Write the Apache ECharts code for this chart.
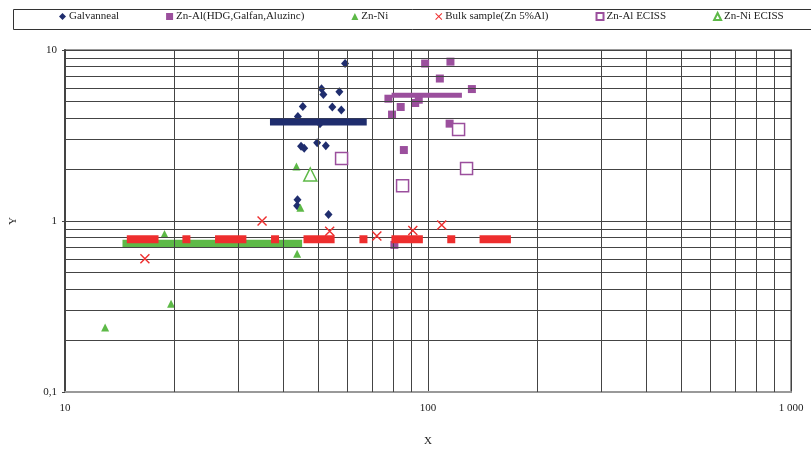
<!DOCTYPE html>
<html>
<head>
<meta charset="utf-8">
<script src="https://cdn.jsdelivr.net/npm/echarts@6/dist/echarts.min.js"></script>
<style>
html, body { margin: 0; padding: 0; background: #fff; }
#chart { width: 811px; height: 452px; }
</style>
</head>
<body>
<div id="chart"></div>
<script>
// values, [x, y]
var galvanneal = [[59.1, 8.33], [50.9, 5.93], [51.5, 5.50], [57.0, 5.70], [45.2, 4.68], [54.5, 4.64],
	[57.7, 4.46], [43.8, 4.08], [50.4, 3.71], [44.7, 2.74], [45.6, 2.66], [49.5, 2.87], [52.3, 2.75],
	[43.7, 1.33], [43.6, 1.23], [53.2, 1.09]];
var znAl = [[98.2, 8.33], [115.3, 8.55], [107.8, 6.81], [132.1, 5.91], [77.8, 5.19], [84.1, 4.64],
	[92.2, 4.90], [94.3, 5.12], [79.6, 4.19], [114.7, 3.71], [85.8, 2.60], [80.8, 0.725]];
var znNi = [[43.4, 2.08], [44.5, 1.195], [18.8, 0.84], [43.6, 0.643], [19.6, 0.328], [12.9, 0.238]];
var bulk = [[16.6, 0.601], [34.9, 1.0], [53.6, 0.871], [72.3, 0.818], [90.8, 0.879], [109.1, 0.948]];
var znAlEciss = [[57.8, 2.32], [121.4, 3.43], [127.7, 2.03], [85.1, 1.61]];
var znNiEciss = [[47.4, 1.87]];

// ranges drawn as thick bands
var galvBar = [[36.7, 3.79], [67.8, 3.79]];
var znAlBar = [[79.4, 5.44], [124, 5.44]];
var znNiBar = [[14.4, 0.737], [45.0, 0.737]];
var bulkLevel = 0.782;
var bulkRanges = [[14.8, 18.1], [25.9, 31.6], [45.4, 55.3], [79.3, 96.8], [138.7, 169.2]];
var bulkSingles = [21.6, 37.9, 66.4, 115.9];

// grid lines between decades
var xGridValues = [20, 30, 40, 50, 60, 70, 80, 90, 200, 300, 400, 500, 600, 700, 800, 900];
var yGridValues = [0.2, 0.3, 0.4, 0.5, 0.6, 0.7, 0.8, 0.9, 2, 3, 4, 5, 6, 7, 8, 9];

var cNavy = '#1f2d6e';
var cPurple = '#9b4f9d';
var cGreen = '#5db947';
var cRed = '#ee2e2e';
var crossPath = 'path://M0,1L1,0L10,9L9,10Z M9,0L10,1L1,10L0,9Z';
var serif = 'Liberation Serif';

var chart = echarts.init(document.getElementById('chart'));

var gridLines = [];
xGridValues.forEach(function(v) { gridLines.push({ xAxis: v }); });
yGridValues.forEach(function(v) { gridLines.push({ yAxis: v }); });

function band(data, color, width, z) {
	return {
		type: 'line',
		data: data,
		symbol: 'none',
		silent: true,
		z: z,
		lineStyle: { color: color, width: width, cap: 'butt' }
	};
}

var series = [{
	// carrier for the minor grid lines
	type: 'line',
	data: [],
	symbol: 'none',
	silent: true,
	z: 1,
	markLine: {
		silent: true,
		symbol: 'none',
		label: { show: false },
		lineStyle: { color: '#444', width: 1, type: 'solid' },
		data: gridLines
	}
},
	band(znNiBar, cGreen, 8, 3),
{
	name: 'Galvanneal',
	type: 'scatter',
	data: galvanneal,
	symbol: 'diamond',
	symbolSize: [8, 9],
	itemStyle: { color: cNavy, opacity: 1 },
	z: 4
}, {
	name: 'Zn-Al(HDG,Galfan,Aluzinc)',
	type: 'scatter',
	data: znAl,
	symbol: 'rect',
	symbolSize: 8,
	itemStyle: { color: cPurple, opacity: 1 },
	z: 4
}, {
	name: 'Zn-Ni',
	type: 'scatter',
	data: znNi,
	symbol: 'triangle',
	symbolSize: 8,
	itemStyle: { color: cGreen, opacity: 1 },
	z: 4
},
	band(galvBar, cNavy, 7, 5),
	band(znAlBar, cPurple, 5, 5)
];

bulkRanges.forEach(function(r) {
	series.push(band([[r[0], bulkLevel], [r[1], bulkLevel]], cRed, 8, 6));
});
series.push({
	type: 'scatter',
	data: bulkSingles.map(function(x) { return [x, bulkLevel]; }),
	symbol: 'rect',
	symbolSize: 8,
	itemStyle: { color: cRed, opacity: 1 },
	silent: true,
	z: 6
});

series.push({
	name: 'Bulk sample(Zn 5%Al)',
	type: 'scatter',
	data: bulk,
	symbol: crossPath,
	symbolSize: 10,
	itemStyle: { color: cRed, opacity: 1 },
	z: 7
}, {
	name: 'Zn-Al ECISS',
	type: 'scatter',
	data: znAlEciss,
	symbol: 'rect',
	symbolSize: 12,
	itemStyle: { color: '#fff', borderColor: cPurple, borderWidth: 1.5, opacity: 1 },
	z: 7
}, {
	name: 'Zn-Ni ECISS',
	type: 'scatter',
	data: znNiEciss,
	symbol: 'triangle',
	symbolSize: 13,
	itemStyle: { color: '#fff', borderColor: cGreen, borderWidth: 1.5, opacity: 1 },
	z: 7
});

var option = {
	backgroundColor: '#fff',
	animation: false,
	grid: {
		left: 65, right: 20, top: 50, bottom: 58,
		show: true,
		borderColor: '#999',
		borderWidth: 2
	},
	graphic: [{
		type: 'rect',
		left: 11, top: 7,
		shape: { width: 812, height: 20 },
		style: { fill: 'none', stroke: '#333', lineWidth: 1 },
		silent: true
	}],
	legend: {
		data: ['Galvanneal', 'Zn-Al(HDG,Galfan,Aluzinc)', 'Zn-Ni', 'Bulk sample(Zn 5%Al)', 'Zn-Al ECISS', 'Zn-Ni ECISS'],
		left: 59,
		top: 11,
		padding: 0,
		itemGap: 47,
		itemWidth: 7,
		itemHeight: 7,
		textStyle: { fontFamily: serif, fontSize: 11, color: '#222', padding: [0, 0, 0, -2] }
	},
	xAxis: {
		type: 'log',
		logBase: 10,
		min: 10,
		max: 1000,
		name: 'X',
		nameLocation: 'middle',
		nameGap: 44,
		nameTextStyle: { fontFamily: serif, fontSize: 11, color: '#222' },
		axisLine: { lineStyle: { color: '#999', width: 2 } },
		axisTick: { show: false },
		axisLabel: {
			margin: 11,
			fontFamily: serif,
			fontSize: 11,
			color: '#222',
			formatter: function(v) {
				return v >= 1000 ? '1 000' : String(v);
			}
		},
		splitLine: { show: true, lineStyle: { color: '#444', width: 1 } }
	},
	yAxis: {
		type: 'log',
		logBase: 10,
		min: 0.1,
		max: 10,
		name: 'Y',
		nameLocation: 'middle',
		nameRotate: 90,
		nameGap: 46,
		nameTextStyle: { fontFamily: serif, fontSize: 11, color: '#222' },
		axisLine: { show: true, lineStyle: { color: '#444', width: 2 } },
		axisTick: { show: true, length: 3, lineStyle: { color: '#444' } },
		axisLabel: {
			margin: 8,
			fontFamily: serif,
			fontSize: 11,
			color: '#222',
			formatter: function(v) {
				return String(v).replace('.', ',');
			}
		},
		splitLine: { show: true, lineStyle: { color: '#444', width: 1 } }
	},
	series: series
};

chart.setOption(option);
</script>
</body>
</html>
